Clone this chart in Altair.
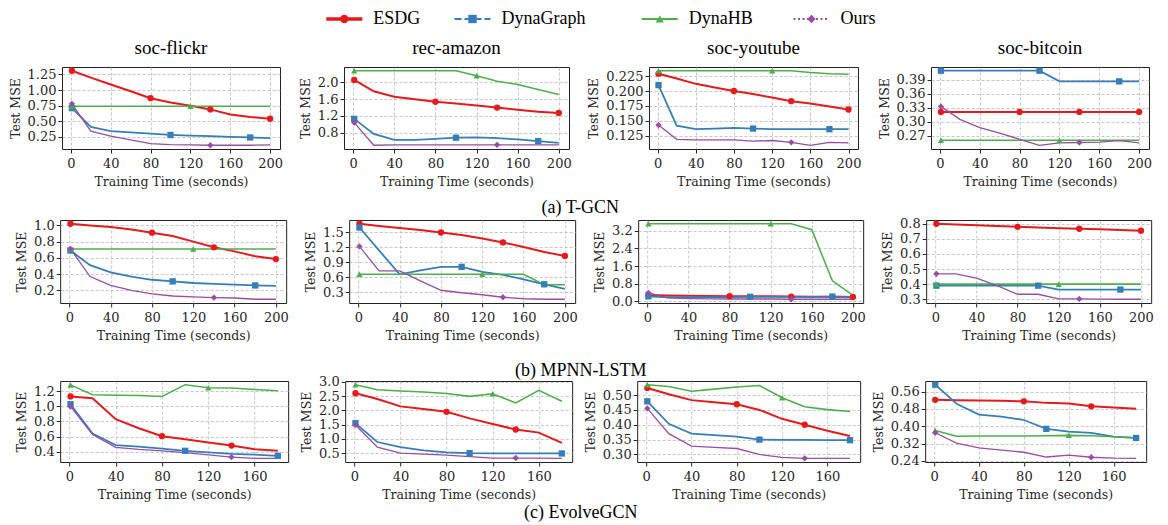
import altair as alt
import pandas as pd

# ---------------- data ----------------
methods = ["ESDG", "DynaGraph", "DynaHB", "Ours"]
colors = ["#e41a1c", "#377eb8", "#4daf4a", "#984ea3"]
shapes = ["circle", "square", "triangle-up", "diamond"]
line_widths = [2.0, 1.3, 1.3, 1.3]
legend_dash = [[1, 0], [7, 3], [1, 0], [2, 2.5]]
legend_widths = [3.5, 2.2, 2.2, 2.2]

marker_x = {"ESDG": [1, 80, 140, 200], "DynaGraph": [1, 100, 180],
            "DynaHB": [1, 120], "Ours": [1, 140]}

x_long = [1, 20, 40, 60, 80, 100, 120, 140, 160, 180, 200]
x_short = [1, 20, 40, 60, 80, 100, 120, 140, 160, 180]

datasets = ["soc-flickr", "rec-amazon", "soc-youtube", "soc-bitcoin"]
models = ["(a) T-GCN", "(b) MPNN-LSTM", "(c) EvolveGCN"]

# ---- T-GCN ----
tgcn_flickr = {
    "ESDG": [1.31, 1.20, 1.09, 0.98, 0.87, 0.80, 0.75, 0.69, 0.61, 0.57, 0.54],
    "DynaGraph": [0.71, 0.41, 0.34, 0.32, 0.30, 0.28, 0.27, 0.26, 0.25, 0.24, 0.23],
    "DynaHB": [0.74, 0.74, 0.74, 0.74, 0.74, 0.74, 0.74, 0.74, 0.74, 0.74, 0.74],
    "Ours": [0.78, 0.34, 0.26, 0.20, 0.14, 0.125, 0.12, 0.115, 0.115, 0.115, 0.12],
}
tgcn_amazon = {
    "ESDG": [2.06, 1.79, 1.66, 1.60, 1.54, 1.50, 1.45, 1.40, 1.35, 1.30, 1.27],
    "DynaGraph": [1.13, 0.77, 0.63, 0.63, 0.65, 0.68, 0.69, 0.67, 0.64, 0.60, 0.56],
    "DynaHB": [2.28, 2.28, 2.28, 2.28, 2.28, 2.28, 2.16, 2.03, 1.95, 1.83, 1.71],
    "Ours": [1.04, 0.50, 0.51, 0.51, 0.51, 0.51, 0.51, 0.51, 0.51, 0.51, 0.51],
}
tgcn_youtube = {
    "ESDG": [0.229, 0.221, 0.212, 0.206, 0.200, 0.195, 0.189, 0.183, 0.179, 0.174, 0.169],
    "DynaGraph": [0.210, 0.142, 0.136, 0.137, 0.138, 0.137, 0.136, 0.136, 0.136, 0.136, 0.136],
    "DynaHB": [0.234, 0.234, 0.234, 0.234, 0.234, 0.234, 0.234, 0.234, 0.231, 0.229, 0.228],
    "Ours": [0.143, 0.119, 0.118, 0.118, 0.118, 0.116, 0.117, 0.114, 0.109, 0.114, 0.113],
}
tgcn_bitcoin = {
    "ESDG": [0.321, 0.321, 0.321, 0.321, 0.321, 0.321, 0.321, 0.321, 0.321, 0.321, 0.321],
    "DynaGraph": [0.410, 0.410, 0.410, 0.410, 0.410, 0.410, 0.387, 0.387, 0.387, 0.387, 0.387],
    "DynaHB": [0.260, 0.260, 0.260, 0.260, 0.260, 0.260, 0.260, 0.260, 0.260, 0.260, 0.260],
    "Ours": [0.333, 0.305, 0.287, 0.275, 0.262, 0.249, 0.254, 0.255, 0.256, 0.259, 0.254],
}
# ---- MPNN-LSTM ----
mpnn_flickr = {
    "ESDG": [1.02, 1.00, 0.98, 0.95, 0.91, 0.87, 0.80, 0.73, 0.68, 0.62, 0.585],
    "DynaGraph": [0.69, 0.51, 0.42, 0.37, 0.33, 0.31, 0.29, 0.28, 0.27, 0.26, 0.255],
    "DynaHB": [0.71, 0.71, 0.71, 0.71, 0.71, 0.71, 0.71, 0.71, 0.71, 0.71, 0.71],
    "Ours": [0.71, 0.37, 0.26, 0.20, 0.155, 0.13, 0.12, 0.11, 0.105, 0.09, 0.09],
}
mpnn_amazon = {
    "ESDG": [1.675, 1.63, 1.59, 1.55, 1.50, 1.45, 1.38, 1.30, 1.21, 1.11, 1.03],
    "DynaGraph": [1.60, 1.14, 0.66, 0.74, 0.81, 0.81, 0.71, 0.65, 0.56, 0.46, 0.37],
    "DynaHB": [0.66, 0.66, 0.66, 0.66, 0.66, 0.66, 0.66, 0.66, 0.66, 0.45, 0.45],
    "Ours": [1.22, 0.73, 0.73, 0.53, 0.34, 0.29, 0.25, 0.20, 0.17, 0.16, 0.16],
}
mpnn_youtube = {
    "ESDG": [0.28, 0.26, 0.25, 0.24, 0.23, 0.22, 0.22, 0.21, 0.20, 0.20, 0.19],
    "DynaGraph": [0.22, 0.18, 0.18, 0.19, 0.19, 0.20, 0.20, 0.20, 0.20, 0.21, 0.20],
    "DynaHB": [3.52, 3.52, 3.52, 3.52, 3.52, 3.52, 3.52, 3.52, 3.25, 0.93, 0.26],
    "Ours": [0.38, 0.15, 0.12, 0.11, 0.10, 0.10, 0.10, 0.09, 0.09, 0.09, 0.09],
}
mpnn_bitcoin = {
    "ESDG": [0.80, 0.795, 0.79, 0.785, 0.78, 0.775, 0.77, 0.767, 0.763, 0.758, 0.754],
    "DynaGraph": [0.39, 0.39, 0.39, 0.39, 0.39, 0.39, 0.364, 0.364, 0.364, 0.364, 0.364],
    "DynaHB": [0.40, 0.40, 0.40, 0.40, 0.40, 0.40, 0.40, 0.40, 0.40, 0.40, 0.40],
    "Ours": [0.468, 0.468, 0.44, 0.39, 0.333, 0.333, 0.302, 0.302, 0.301, 0.300, 0.300],
}
# ---- EvolveGCN ----
evolve_flickr = {
    "ESDG": [1.134, 1.11, 0.83, 0.71, 0.605, 0.565, 0.52, 0.48, 0.43, 0.41],
    "DynaGraph": [1.03, 0.64, 0.487, 0.465, 0.44, 0.41, 0.39, 0.37, 0.36, 0.343],
    "DynaHB": [1.287, 1.156, 1.15, 1.145, 1.134, 1.29, 1.25, 1.245, 1.225, 1.21],
    "Ours": [1.0, 0.627, 0.457, 0.43, 0.41, 0.385, 0.355, 0.326, 0.31, 0.31],
}
evolve_amazon = {
    "ESDG": [2.6, 2.40, 2.14, 2.05, 1.95, 1.72, 1.52, 1.33, 1.22, 0.86],
    "DynaGraph": [1.55, 0.89, 0.71, 0.60, 0.53, 0.50, 0.49, 0.49, 0.49, 0.49],
    "DynaHB": [2.9, 2.72, 2.68, 2.64, 2.59, 2.49, 2.58, 2.26, 2.70, 2.32],
    "Ours": [1.49, 0.71, 0.50, 0.47, 0.43, 0.38, 0.33, 0.33, 0.33, 0.32],
}
evolve_youtube = {
    "ESDG": [0.524, 0.503, 0.483, 0.476, 0.469, 0.45, 0.42, 0.40, 0.38, 0.362],
    "DynaGraph": [0.479, 0.403, 0.37, 0.365, 0.36, 0.35, 0.349, 0.349, 0.348, 0.348],
    "DynaHB": [0.535, 0.529, 0.513, 0.52, 0.527, 0.532, 0.491, 0.461, 0.451, 0.445],
    "Ours": [0.455, 0.37, 0.328, 0.324, 0.32, 0.30, 0.29, 0.287, 0.287, 0.287],
}
evolve_bitcoin = {
    "ESDG": [0.522, 0.52, 0.519, 0.518, 0.515, 0.508, 0.505, 0.492, 0.487, 0.481],
    "DynaGraph": [0.592, 0.504, 0.454, 0.445, 0.429, 0.388, 0.375, 0.37, 0.352, 0.346],
    "DynaHB": [0.38, 0.354, 0.355, 0.355, 0.355, 0.356, 0.358, 0.356, 0.352, 0.346],
    "Ours": [0.37, 0.322, 0.30, 0.29, 0.28, 0.258, 0.267, 0.257, 0.253, 0.252],
}

yticks = [
    [[0.25, 0.5, 0.75, 1.0, 1.25], [0.8, 1.2, 1.6, 2.0],
     [0.125, 0.15, 0.175, 0.2, 0.225], [0.24, 0.27, 0.30, 0.33, 0.36, 0.39]],
    [[0.2, 0.4, 0.6, 0.8, 1.0], [0.3, 0.6, 0.9, 1.2, 1.5],
     [0.0, 0.8, 1.6, 2.4, 3.2], [0.3, 0.4, 0.5, 0.6, 0.7, 0.8]],
    [[0.4, 0.6, 0.8, 1.0, 1.2], [0.5, 1.0, 1.5, 2.0, 2.5, 3.0],
     [0.30, 0.35, 0.40, 0.45, 0.50], [0.24, 0.32, 0.40, 0.48, 0.56]],
]
yformats = [[".2f", ".1f", ".3f", ".2f"], [".1f", ".1f", ".1f", ".1f"],
            [".1f", ".1f", ".2f", ".2f"]]
xticks_long = [0, 40, 80, 120, 160, 200]
xticks_short = [0, 40, 80, 120, 160]

grid_data = [
    [tgcn_flickr, tgcn_amazon, tgcn_youtube, tgcn_bitcoin],
    [mpnn_flickr, mpnn_amazon, mpnn_youtube, mpnn_bitcoin],
    [evolve_flickr, evolve_amazon, evolve_youtube, evolve_bitcoin],
]
row_x = [x_long, x_long, x_short]
row_xticks = [xticks_long, xticks_long, xticks_short]

# layout (sizes only)
panel_widths = [[218, 225, 209, 218], [226, 226, 225, 225], [228, 227, 223, 221]]
row_spacing = [15, 14, 10]
row_heights = [82, 83, 81]

SERIF_TICK = "DejaVu Serif"
SERIF_TEXT = "Liberation Serif"
INK = "#262626"

color_scale = alt.Scale(domain=methods, range=colors)
shape_scale = alt.Scale(domain=methods, range=shapes)
width_scale = alt.Scale(domain=methods, range=line_widths)


def make_df(series, xs):
    rows = []
    for m in methods:
        for xv, yv in zip(xs, series[m]):
            rows.append({"method": m, "x": xv, "y": yv,
                         "mark": xv in marker_x[m]})
    return pd.DataFrame(rows)


def make_panel(series, xs, xt, yt, yf, w, h, title=None):
    df = make_df(series, xs)
    lo, hi = df["y"].min(), df["y"].max()
    pad = 0.05 * (hi - lo)
    xmin, xmax = min(xs), max(xs)
    xpad = 0.05 * (xmax - xmin)
    x = alt.X("x:Q",
              scale=alt.Scale(domain=[xmin - xpad, xmax + xpad], nice=False, zero=False),
              axis=alt.Axis(values=xt, title="Training Time (seconds)", format="d",
                            titleFontWeight="normal", labelPadding=4, titlePadding=5))
    y = alt.Y("y:Q",
              scale=alt.Scale(domain=[lo - pad, hi + pad], nice=False, zero=False),
              axis=alt.Axis(values=yt, format=yf, title="Test MSE",
                            titleFontWeight="normal", labelPadding=2, titlePadding=5))
    base = alt.Chart(df)
    lines = base.mark_line().encode(
        x=x, y=y,
        color=alt.Color("method:N", scale=color_scale, legend=None),
        strokeWidth=alt.StrokeWidth("method:N", scale=width_scale, legend=None),
        detail="method:N",
    )
    pts = base.transform_filter(alt.datum.mark).mark_point(
        filled=True, opacity=1, size=40).encode(
        x=x, y=y,
        color=alt.Color("method:N", scale=color_scale, legend=None),
        shape=alt.Shape("method:N", scale=shape_scale, legend=None),
    )
    ch = alt.layer(lines, pts).properties(width=w, height=h)
    if title:
        ch = ch.properties(title=alt.TitleParams(
            text=title, font=SERIF_TEXT, fontSize=19, fontWeight="normal",
            color="#000", offset=9, frame="group", anchor="middle"))
    return ch


def caption(text, orient, offset):
    return alt.TitleParams(text=text, orient=orient, anchor="middle",
                           font=SERIF_TEXT, fontSize=18, fontWeight="normal",
                           color="#000", offset=offset)


row_charts = []
for r in range(3):
    panels = []
    for c in range(4):
        panels.append(make_panel(grid_data[r][c], row_x[r], row_xticks[r],
                                 yticks[r][c], yformats[r][c], panel_widths[r][c],
                                 row_heights[r],
                                 title=datasets[c] if r == 0 else None))
    row_charts.append(alt.hconcat(*panels, spacing=row_spacing[r]))

row1 = row_charts[0].properties(title=caption(models[0], "bottom", 11))
row2 = row_charts[1]
row3 = alt.vconcat(row_charts[2].properties(title=caption(models[2], "bottom", 3))
                   ).properties(title=caption(models[1], "top", -5))
lower = alt.vconcat(row2, row3, spacing=20)

# ---------------- legend (positions derived from label lengths) ----------------
line_len, gap1, gap2, char_w = 36, 11, 34, 11.8
starts = []
pos = 0.0
for m in methods:
    starts.append(pos)
    pos += line_len + gap1 + len(m) * char_w + gap2
legend_total = pos - gap2
leg_df = pd.DataFrame({
    "method": methods,
    "x0": starts,
    "x1": [s + line_len for s in starts],
    "xm": [s + line_len / 2 for s in starts],
    "xt": [s + line_len + gap1 for s in starts],
    "lw": legend_widths,
})
LEG_Y = 11
lx = alt.Scale(domain=[0, legend_total], nice=False, zero=False)
leg_base = alt.Chart(leg_df)
leg_rule = leg_base.mark_rule().encode(
    x=alt.X("x0:Q", scale=lx, axis=None), x2="x1:Q", y=alt.value(LEG_Y),
    color=alt.Color("method:N", scale=color_scale, legend=None),
    strokeDash=alt.StrokeDash("method:N", scale=alt.Scale(domain=methods, range=legend_dash), legend=None),
    strokeWidth=alt.StrokeWidth("lw:Q", scale=None, legend=None),
)
leg_pt = leg_base.mark_point(filled=True, opacity=1, size=70).encode(
    x=alt.X("xm:Q", scale=lx, axis=None), y=alt.value(LEG_Y),
    color=alt.Color("method:N", scale=color_scale, legend=None),
    shape=alt.Shape("method:N", scale=shape_scale, legend=None),
)
leg_txt = leg_base.mark_text(align="left", baseline="middle", font=SERIF_TEXT,
                             fontSize=18, color="#000").encode(
    x=alt.X("xt:Q", scale=lx, axis=None), y=alt.value(LEG_Y), text="method:N")
legend = alt.layer(leg_rule, leg_pt, leg_txt).properties(
    width=legend_total, height=30, view=alt.ViewBackground(stroke=None))

chart = alt.vconcat(legend, row1, lower, spacing=0, center=True).properties(
    padding=0, background="white"
).resolve_scale(strokeWidth="independent", strokeDash="independent").configure_view(
    stroke="#222", strokeWidth=1
).configure_axis(
    labelFont=SERIF_TICK, labelFontSize=13, labelColor=INK,
    titleFont=SERIF_TICK, titleFontSize=12.5, titleFontWeight="normal", titleColor=INK,
    grid=True, gridDash=[3, 2], gridColor="#b8b8b8", gridWidth=0.8,
    domain=False, tickColor=INK, tickSize=4,
)

chart.save("out.html", embed_options={"renderer": "svg", "actions": False})
